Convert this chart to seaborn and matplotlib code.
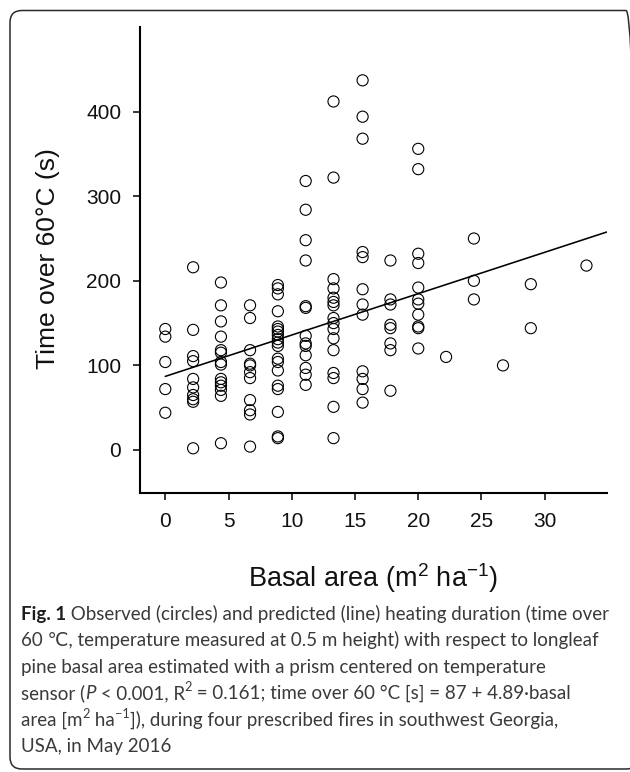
import matplotlib
matplotlib.use("Agg")
import matplotlib.pyplot as plt
from matplotlib.patches import FancyBboxPatch
from matplotlib.transforms import IdentityTransform
import seaborn as sns
import pandas as pd
import numpy as np

# ---------------- data ----------------
basal_levels = [0.0, 2.2, 4.4, 6.7, 8.9, 11.1, 13.3, 15.6, 17.8, 20.0,
                22.2, 24.4, 26.7, 28.9, 33.3]
t_00 = [143, 134, 104, 72, 44]
t_02 = [216, 142, 111, 105, 84, 74, 65, 60, 57, 2]
t_04 = [198, 171, 152, 134, 118, 115, 104, 101, 84, 80, 76, 71, 64, 8]
t_07 = [171, 156, 118, 102, 100, 92, 85, 59, 47, 42, 4]
t_09 = [195, 191, 184, 164, 146, 143, 140, 136, 131, 127, 123, 108, 104,
        94, 76, 72, 45, 16, 14]
t_11 = [318, 284, 248, 224, 170, 168, 135, 126, 123, 112, 97, 89, 77]
t_13 = [412, 322, 202, 191, 180, 175, 171, 156, 150, 143, 132, 118, 91,
        85, 51, 14]
t_16 = [437, 394, 368, 234, 228, 190, 172, 160, 93, 84, 72, 56]
t_18 = [224, 178, 172, 148, 144, 126, 118, 70]
t_20 = [356, 332, 232, 221, 192, 178, 173, 160, 146, 144, 120]
t_22 = [110]
t_24 = [250, 200, 178]
t_27 = [100]
t_29 = [196, 144]
t_33 = [218]
time_columns = [t_00, t_02, t_04, t_07, t_09, t_11, t_13, t_16, t_18, t_20,
                t_22, t_24, t_27, t_29, t_33]

intercept = 87.0
slope = 4.89

x_ticks = [0, 5, 10, 15, 20, 25, 30]
y_ticks = [0, 100, 200, 300, 400]

x_label = r"Basal area (m$^2$ ha$^{\mathsf{-1}}$)"
y_label = "Time over 60°C (s)"

caption_lines = [
    [("Fig. 1", "bold"), (" Observed (circles) and predicted (line) heating duration (time over", "normal")],
    [("60 \u2103, temperature measured at 0.5 m height) with respect to longleaf", "normal")],
    [("pine basal area estimated with a prism centered on temperature", "normal")],
    [("sensor (", "normal"), ("P", "italic"), (" < 0.001, R", "normal"), ("2", "sup"),
     (" = 0.161; time over 60 °C [s] = 87 + 4.89·basal", "normal")],
    [("area [m", "normal"), ("2", "sup"), (" ha", "normal"), ("\u22121", "sup"),
     ("]), during four prescribed fires in southwest Georgia,", "normal")],
    [("USA, in May 2016", "normal")],
]

# ---------------- build table ----------------
df = pd.DataFrame({
    "basal": [b for b, col in zip(basal_levels, time_columns) for _ in col],
    "time": [t for col in time_columns for t in col],
})

# ---------------- figure ----------------
W, H = 630, 772
DPI = 100
sns.set_style("ticks")
plt.rcParams["font.family"] = ["Liberation Sans", "DejaVu Sans"]
plt.rcParams["mathtext.fontset"] = "custom"
plt.rcParams["mathtext.rm"] = "Liberation Sans"
plt.rcParams["mathtext.sf"] = "Liberation Sans"
plt.rcParams["mathtext.it"] = "Liberation Sans:italic"

fig = plt.figure(figsize=(W / DPI, H / DPI), dpi=DPI)
fig.patch.set_facecolor("white")

def fx(px):
    return px / W

def fy(py):
    return 1 - py / H

ax_l, ax_r, ax_t, ax_b = 140, 606.7, 26.7, 492.7
ax = fig.add_axes([fx(ax_l), fy(ax_b), fx(ax_r - ax_l), (ax_b - ax_t) / H])

sns.scatterplot(data=df, x="basal", y="time", ax=ax, marker="o",
                s=64, facecolor="none", edgecolor="black", linewidth=0.8,
                legend=False, zorder=3)

xmin, xmax = -2.0, 34.9
ymin, ymax = -50.5, 500.4
line_x = np.array([0.0, xmax])
line_df = pd.DataFrame({"basal": line_x, "pred": intercept + slope * line_x})
sns.lineplot(data=line_df, x="basal", y="pred", ax=ax, color="black",
             linewidth=1.15, zorder=2)

ax.set_xlim(xmin, xmax)
ax.set_ylim(ymin, ymax)
ax.set_xticks(x_ticks)
ax.set_yticks(y_ticks)
ax.set_xlabel("")
ax.set_ylabel("")
for side in ["top", "right"]:
    ax.spines[side].set_visible(False)
for side in ["left", "bottom"]:
    ax.spines[side].set_linewidth(1.5)
    ax.spines[side].set_color("black")
ax.tick_params(axis="both", direction="out", length=5, width=1.1,
               colors="black", labelsize=15)
ax.tick_params(axis="x", pad=9)
ax.tick_params(axis="y", pad=8.5)
for lab in ax.get_xticklabels() + ax.get_yticklabels():
    lab.set_color("#111111")
ax.set_facecolor("white")

# axis titles
fig.text(fx(373), fy(587), x_label, ha="center", va="baseline",
         fontsize=19.5, color="#111111")
fig.text(fx(55), fy(258.5), y_label, ha="center", va="baseline",
         rotation=90, rotation_mode="anchor", fontsize=19, color="#111111")

# ---------------- caption ----------------
cap_family = ["Lato", "DejaVu Sans"]
body_color = "#3a3a3a"
renderer = fig.canvas.get_renderer()

def seg_props(style, size):
    if style == "bold":
        return dict(fontweight="bold", fontsize=size, color="#1e1e1e"), 0
    if style == "italic":
        return dict(fontstyle="italic", fontsize=size, color=body_color), 0
    if style == "sup":
        return dict(fontsize=size * 0.68, color=body_color), size * 0.42
    return dict(fontsize=size, color=body_color), 0

def line_width(segs, size):
    total = 0.0
    for txt, style in segs:
        props, _ = seg_props(style, size)
        t = fig.text(0, 0, txt, family=cap_family, **props)
        total += t.get_window_extent(renderer).width
        t.remove()
    return total

# scale caption size so the first line spans the same width as in the reference
target_w = 607 - 21
base_size = 12.0
cap_size = base_size * target_w / line_width(caption_lines[0], base_size)

cap_x0 = 21
cap_base0 = 620
cap_step = 26.4
for i, segs in enumerate(caption_lines):
    x = cap_x0
    base = cap_base0 + i * cap_step
    for txt, style in segs:
        props, rise_pt = seg_props(style, cap_size)
        rise_px = rise_pt * DPI / 72.0
        t = fig.text(fx(x), fy(base - rise_px), txt, family=cap_family,
                     ha="left", va="baseline", **props)
        x += t.get_window_extent(renderer).width

# ---------------- rounded border (right side runs off the image) ----------------
border = FancyBboxPatch((10, H - 769), 638 - 10, 769 - 10.5,
                        boxstyle="round,pad=0,rounding_size=12",
                        transform=IdentityTransform(), fill=False,
                        edgecolor="#2a2a2a", linewidth=1.1)
fig.patches.append(border)

fig.savefig("out.png", dpi=DPI, facecolor="white")
